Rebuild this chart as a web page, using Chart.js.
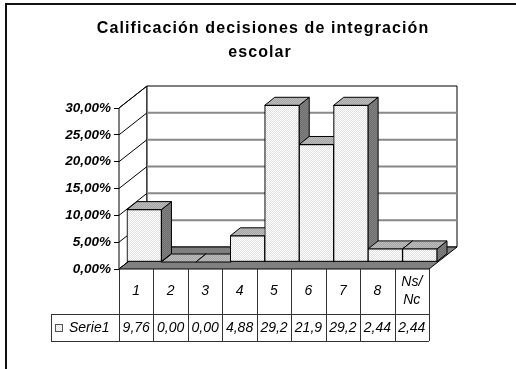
<!DOCTYPE html>
<html>
<head>
<meta charset="utf-8">
<script src="https://cdn.jsdelivr.net/npm/chart.js@4/dist/chart.umd.min.js"></script>
<style>
  body { margin: 0; background: #fff; }
</style>
</head>
<body>
<canvas id="myChart" width="516" height="369"></canvas>
<script>
const chartTitle = ['Calificación decisiones de integración', 'escolar'];
const categories = ['1', '2', '3', '4', '5', '6', '7', '8', ['Ns/', 'Nc']];
const seriesName = 'Serie1';
const serie1 = [9.76, 0, 0, 4.88, 29.2, 21.9, 29.2, 2.44, 2.44];

const FONT = "'Liberation Sans', Arial, sans-serif";
// depth of the box, offset of the bars inside it, and bar thickness
const wall = { dx: 28, dy: -22 };
const barShift = { dx: 8, dy: -7 };
const barDepth = { dx: 10, dy: -8 };

function stipple(base, dot) {
    const c = document.createElement('canvas');
    c.width = 2; c.height = 2;
    const g = c.getContext('2d');
    g.fillStyle = base;
    g.fillRect(0, 0, 2, 2);
    g.fillStyle = dot;
    g.fillRect(0, 0, 1, 1);
    g.fillRect(1, 1, 1, 1);
    return g.createPattern(c, 'repeat');
}
const frontFill = stipple('#ffffff', '#e0e0e0');
const topFill = stipple('#bcbcbc', '#a6a6a6');
const sideFill = stipple('#828282', '#6e6e6e');

function poly(ctx, pts, fill) {
    ctx.beginPath();
    ctx.moveTo(pts[0][0], pts[0][1]);
    for (let i = 1; i < pts.length; i++) ctx.lineTo(pts[i][0], pts[i][1]);
    ctx.closePath();
    ctx.fillStyle = fill;
    ctx.fill();
    ctx.stroke();
}

const box3d = {
    id: 'box3d',
    beforeDraw(chart) {
        const ctx = chart.ctx;
        ctx.save();
        ctx.strokeStyle = '#111';
        ctx.lineWidth = 2;
        ctx.strokeRect(6, 4, 530, 380);
        ctx.fillStyle = '#000';
        ctx.font = 'bold 16px ' + FONT;
        ctx.letterSpacing = '1.1px';
        ctx.textAlign = 'center';
        ctx.textBaseline = 'middle';
        ctx.fillText(chartTitle[0], 263, 29);
        ctx.fillText(chartTitle[1], 260, 53);
        ctx.restore();
    },
    beforeDatasetsDraw(chart) {
        const ctx = chart.ctx;
        const { left: L, right: R, top: T, bottom: B } = chart.chartArea;
        const y = chart.scales.y;
        ctx.save();
        ctx.strokeStyle = '#000';
        ctx.lineWidth = 1;
        // side wall, back wall, floor
        poly(ctx, [[L, T], [L + wall.dx, T + wall.dy], [L + wall.dx, B + wall.dy], [L, B]], '#fff');
        poly(ctx, [[L + wall.dx, T + wall.dy], [R + wall.dx, T + wall.dy], [R + wall.dx, B + wall.dy], [L + wall.dx, B + wall.dy]], '#fff');
        y.ticks.forEach(t => {
            const py = y.getPixelForValue(t.value);
            if (t.value > 0 && t.value < y.max) {
                ctx.strokeStyle = '#888';
                ctx.lineWidth = 2;
                ctx.beginPath();
                ctx.moveTo(L + wall.dx, py + wall.dy);
                ctx.lineTo(R + wall.dx, py + wall.dy);
                ctx.stroke();
            }
            ctx.strokeStyle = '#000';
            ctx.lineWidth = 1;
            ctx.beginPath();
            ctx.moveTo(L, py);
            ctx.lineTo(L + wall.dx, py + wall.dy);
            ctx.stroke();
        });
        ctx.strokeStyle = '#000';
        ctx.lineWidth = 1;
        poly(ctx, [[L, B], [R, B], [R + wall.dx, B + wall.dy], [L + wall.dx, B + wall.dy]], '#808080');
        ctx.restore();
    },
    beforeDatasetDraw(chart) {
        chart.ctx.save();
        chart.ctx.translate(barShift.dx, barShift.dy);
    },
    afterDatasetDraw(chart, args) {
        const ctx = chart.ctx;
        ctx.strokeStyle = '#000';
        ctx.lineWidth = 1;
        args.meta.data.forEach(bar => {
            const { x, y, base, width } = bar.getProps(['x', 'y', 'base', 'width'], true);
            const l = x - width / 2, r = x + width / 2;
            poly(ctx, [[r, y], [r + barDepth.dx, y + barDepth.dy], [r + barDepth.dx, base + barDepth.dy], [r, base]], sideFill);
            poly(ctx, [[l, y], [r, y], [r + barDepth.dx, y + barDepth.dy], [l + barDepth.dx, y + barDepth.dy]], topFill);
            bar.draw(ctx);
        });
        ctx.restore();
    },
    afterDraw(chart) {
        // data table under the category axis
        const ctx = chart.ctx;
        const { left: L, right: R, bottom: B } = chart.chartArea;
        const xs = chart.scales.x;
        const colW = (R - L) / categories.length;
        const rowTop = B + 45, rowBottom = B + 72, keyLeft = 51;
        ctx.save();
        ctx.strokeStyle = '#333';
        ctx.lineWidth = 1;
        ctx.beginPath();
        for (let k = 0; k <= categories.length; k++) {
            const px = Math.round(L + k * colW) + 0.5;
            ctx.moveTo(px, B);
            ctx.lineTo(px, rowBottom);
        }
        ctx.moveTo(keyLeft + 0.5, rowTop);
        ctx.lineTo(keyLeft + 0.5, rowBottom);
        ctx.moveTo(keyLeft, rowTop + 0.5);
        ctx.lineTo(R, rowTop + 0.5);
        ctx.moveTo(keyLeft, rowBottom + 0.5);
        ctx.lineTo(R, rowBottom + 0.5);
        ctx.stroke();

        ctx.fillStyle = '#000';
        ctx.font = 'italic 14px ' + FONT;
        ctx.textAlign = 'center';
        ctx.textBaseline = 'middle';
        categories.forEach((c, i) => {
            const cx = xs.getPixelForValue(i);
            const lines = Array.isArray(c) ? c : [c];
            lines.forEach((s, j) => {
                ctx.fillText(s, cx, (B + rowTop) / 2 + (j - (lines.length - 1) / 2) * 18);
            });
            const txt = serie1[i].toFixed(2).replace('.', ',').slice(0, 4);
            ctx.fillText(txt, cx, (rowTop + rowBottom) / 2 + 1);
        });
        ctx.textAlign = 'left';
        ctx.fillText(seriesName, 69, (rowTop + rowBottom) / 2 + 1);
        ctx.fillStyle = frontFill;
        ctx.fillRect(55, 324, 7, 7);
        ctx.strokeStyle = '#555';
        ctx.strokeRect(55.5, 324.5, 7, 7);
        ctx.restore();
    }
};

const ctx = document.getElementById('myChart');
const myChart = new Chart(ctx, {
    type: 'bar',
    data: {
        labels: categories,
        datasets: [{
            label: seriesName,
            data: serie1,
            backgroundColor: frontFill,
            borderColor: '#000',
            borderWidth: 1,
            borderSkipped: false,
            barPercentage: 1,
            categoryPercentage: 1,
            clip: false
        }]
    },
    options: {
        responsive: false,
        animation: false,
        layout: { padding: { left: 0, top: 108, right: 87, bottom: 100 } },
        plugins: {
            legend: { display: false },
            title: { display: false },
            tooltip: { enabled: false }
        },
        scales: {
            x: { display: false },
            y: {
                min: 0,
                max: 30,
                afterFit(scale) { scale.width = 119; },
                border: { display: true, color: '#000', width: 1 },
                grid: { drawOnChartArea: false, tickLength: 5, color: '#000' },
                ticks: {
                    stepSize: 5,
                    padding: 3,
                    color: '#000',
                    font: { family: FONT, size: 13.5, weight: 'bold', style: 'italic' },
                    callback: v => v.toFixed(2).replace('.', ',') + '%'
                }
            }
        }
    },
    plugins: [box3d]
});
</script>
</body>
</html>
